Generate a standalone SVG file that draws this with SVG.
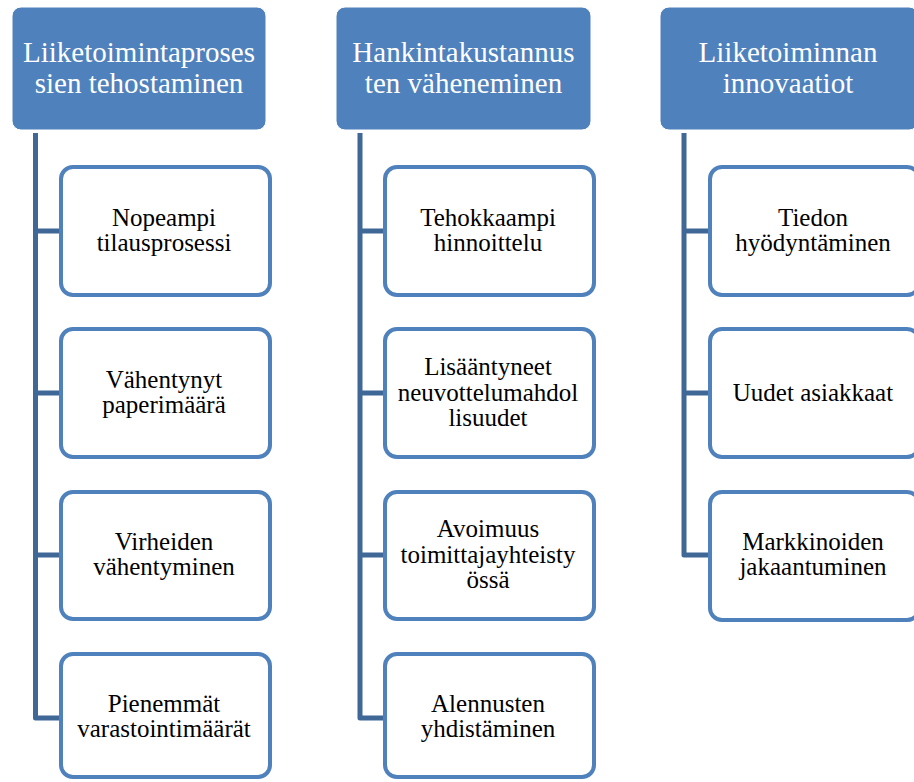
<svg xmlns="http://www.w3.org/2000/svg" width="914" height="782" viewBox="0 0 914 782">
<style>
text{font-family:"Liberation Serif","Times New Roman",Tinos,"DejaVu Serif","Noto Serif",Times,serif}
.hdr{fill:#4F81BD;stroke:#ffffff;stroke-width:1}
.box{fill:#ffffff;stroke:#4F81BD;stroke-width:4}
.conn{fill:none;stroke:#3F6897;stroke-width:5;stroke-linejoin:round}
.ht{font-size:29px;fill:#ffffff;text-anchor:middle}
.ct{font-size:25px;fill:#000000;text-anchor:middle}
</style>
<rect width="914" height="782" fill="#ffffff"/>
<g id="connectors">
<path class="conn" d="M35.5,133 V718 H61 M35.5,231 H61 M35.5,393 H61 M35.5,555 H61"/>
<path class="conn" d="M360,133 V718 H385 M360,231 H385 M360,393 H385 M360,555 H385"/>
<path class="conn" d="M684,133 V555 H710 M684,231 H710 M684,393 H710"/>
</g>
<g id="h1"><rect class="hdr" x="12" y="7" width="254" height="123" rx="9"/>
<text class="ht"><tspan x="139" y="62">Liiketoimintaproses</tspan><tspan x="139" y="93">sien tehostaminen</tspan></text></g>
<g id="h2"><rect class="hdr" x="336" y="7" width="255" height="123" rx="9"/>
<text class="ht"><tspan x="463.5" y="62">Hankintakustannus</tspan><tspan x="463.5" y="93">ten väheneminen</tspan></text></g>
<g id="h3"><rect class="hdr" x="660" y="7" width="258" height="123" rx="9"/>
<text class="ht"><tspan x="788" y="62">Liiketoiminnan</tspan><tspan x="788" y="93">innovaatiot</tspan></text></g>

<g id="c1a"><rect class="box" x="61" y="167" width="209" height="128" rx="12"/>
<text class="ct"><tspan x="164" y="226">Nopeampi</tspan><tspan x="164" y="251">tilausprosessi</tspan></text></g>
<g id="c1b"><rect class="box" x="61" y="329" width="209" height="128" rx="12"/>
<text class="ct"><tspan x="164" y="388">Vähentynyt</tspan><tspan x="164" y="413">paperimäärä</tspan></text></g>
<g id="c1c"><rect class="box" x="61" y="492" width="209" height="127" rx="12"/>
<text class="ct"><tspan x="164" y="550">Virheiden</tspan><tspan x="164" y="575">vähentyminen</tspan></text></g>
<g id="c1d"><rect class="box" x="61" y="654" width="209" height="123" rx="12"/>
<text class="ct"><tspan x="164" y="712">Pienemmät</tspan><tspan x="164" y="737">varastointimäärät</tspan></text></g>

<g id="c2a"><rect class="box" x="385" y="167" width="209" height="128" rx="12"/>
<text class="ct"><tspan x="488" y="226">Tehokkaampi</tspan><tspan x="488" y="251">hinnoittelu</tspan></text></g>
<g id="c2b"><rect class="box" x="385" y="329" width="209" height="128" rx="12"/>
<text class="ct"><tspan x="488" y="375">Lisääntyneet</tspan><tspan x="488" y="401">neuvottelumahdol</tspan><tspan x="488" y="426">lisuudet</tspan></text></g>
<g id="c2c"><rect class="box" x="385" y="492" width="209" height="127" rx="12"/>
<text class="ct"><tspan x="488" y="537">Avoimuus</tspan><tspan x="488" y="563">toimittajayhteisty</tspan><tspan x="488" y="588">össä</tspan></text></g>
<g id="c2d"><rect class="box" x="385" y="654" width="209" height="123" rx="12"/>
<text class="ct"><tspan x="488" y="712">Alennusten</tspan><tspan x="488" y="737">yhdistäminen</tspan></text></g>

<g id="c3a"><rect class="box" x="710" y="167" width="209" height="128" rx="12"/>
<text class="ct"><tspan x="813" y="226">Tiedon</tspan><tspan x="813" y="251">hyödyntäminen</tspan></text></g>
<g id="c3b"><rect class="box" x="710" y="329" width="209" height="128" rx="12"/>
<text class="ct" x="813" y="401">Uudet asiakkaat</text></g>
<g id="c3c"><rect class="box" x="710" y="492" width="209" height="128" rx="12"/>
<text class="ct"><tspan x="813" y="550">Markkinoiden</tspan><tspan x="813" y="575">jakaantuminen</tspan></text></g>
</svg>
